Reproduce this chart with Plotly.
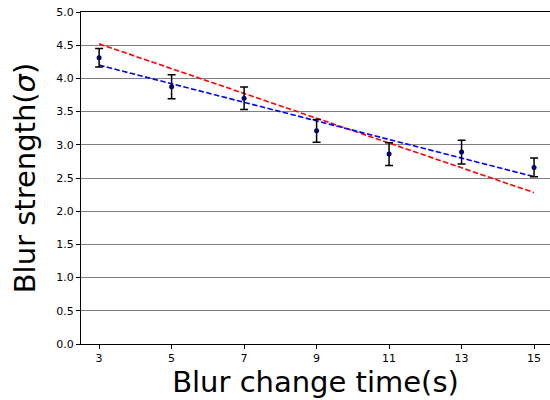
import plotly.graph_objects as go

times = [3, 5, 7, 9, 11, 13, 15]
blur_mean = [4.31, 3.875, 3.70, 3.21, 2.86, 2.89, 2.66]
blur_err = [0.14, 0.18, 0.17, 0.17, 0.17, 0.18, 0.14]
blue_x = [3, 15]
blue_y = [4.20, 2.52]
red_x = [3, 15]
red_y = [4.52, 2.28]
xticks = [3, 5, 7, 9, 11, 13, 15]
yticks = [0.0, 0.5, 1.0, 1.5, 2.0, 2.5, 3.0, 3.5, 4.0, 4.5, 5.0]

fig = go.Figure()
fig.add_trace(go.Scatter(x=red_x, y=red_y, mode="lines",
                         line=dict(color="red", width=1.6, dash="5.5px,2.4px"), showlegend=False))
fig.add_trace(go.Scatter(x=blue_x, y=blue_y, mode="lines",
                         line=dict(color="blue", width=1.6, dash="5.5px,2.4px"), showlegend=False))
fig.add_trace(go.Scatter(x=times, y=blur_mean, mode="markers",
                         marker=dict(color="#00006e", size=5),
                         error_y=dict(type="data", array=blur_err, color="black", thickness=1.5, width=4),
                         showlegend=False))

fig.update_layout(
    width=550, height=400,
    margin=dict(l=81, r=0, t=12, b=56),
    plot_bgcolor="white", paper_bgcolor="white",
    font=dict(family="DejaVu Sans", color="black"),
    xaxis=dict(range=[2.5, 15.44], tickvals=xticks, ticktext=[str(t) for t in xticks],
               showgrid=False, zeroline=False, showline=True, linecolor="black", linewidth=1,
               mirror=True, ticklabeloverflow="allow", automargin="bottom",
               ticks="outside", ticklen=4, tickcolor="black", tickfont=dict(size=11),
               title=dict(text="Blur change time(s)", font=dict(size=29), standoff=2)),
    yaxis=dict(range=[0, 5], tickvals=yticks, ticktext=[f"{v:.1f}" for v in yticks],
               showgrid=True, gridcolor="#808080", gridwidth=1, zeroline=False,
               showline=True, linecolor="black", linewidth=1, mirror=True,
               ticklabeloverflow="allow", automargin="left",
               ticks="outside", ticklen=4, tickcolor="black", tickfont=dict(size=11),
               title=dict(text="Blur strength(<i>σ</i>)", font=dict(size=29), standoff=12)),
)
fig.write_html("out.html", config={"displayModeBar": False},
               post_script="document.body.style.margin='0';")
